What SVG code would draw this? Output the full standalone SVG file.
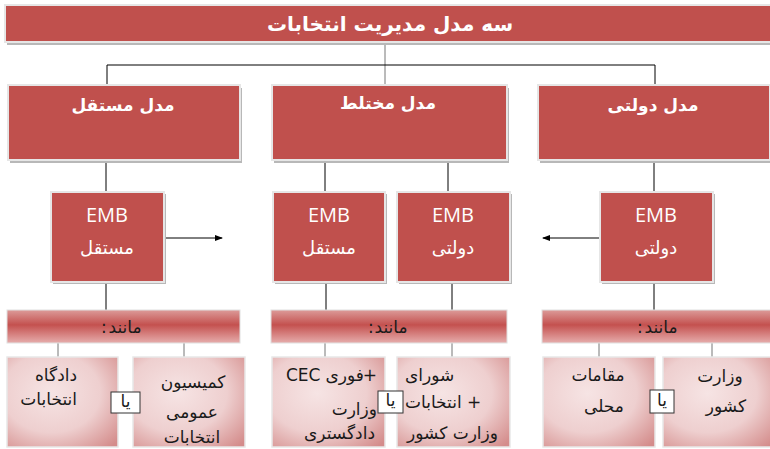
<svg xmlns="http://www.w3.org/2000/svg" width="770" height="449" viewBox="0 0 770 449">
<style>
.red{fill:#C0504D;stroke:#e6e6e6;stroke-width:2}
.shd{fill:#b8b8b8}
.bar{fill:url(#barG);stroke:#e0e0e0;stroke-width:1}
.pink{fill:url(#pinkG);stroke:#e8e8e8;stroke-width:1.5}
.ya{fill:#fff;stroke:#333;stroke-width:1}
.ttl{font-family:"DejaVu Sans",sans-serif;font-weight:bold;fill:#fff;text-anchor:middle}
.emb{font-family:"Open Sans","Liberation Sans",sans-serif;fill:#fff;font-size:20px;text-anchor:middle}
.embf{font-family:"DejaVu Sans",sans-serif;fill:#fff;font-size:18px;text-anchor:middle}
.dk{font-family:"DejaVu Sans",sans-serif;fill:#1a1a1a;font-size:17px}
.ln{stroke:#000;stroke-width:1;fill:none}
.lg{stroke:#777;stroke-width:1;fill:none}
</style>
<defs>
<linearGradient id="barG" x1="0" y1="0" x2="0" y2="1">
<stop offset="0" stop-color="#dc9b99"/>
<stop offset="0.45" stop-color="#c4514f"/>
<stop offset="1" stop-color="#e6adac"/>
</linearGradient>
<radialGradient id="pinkG" cx="0.4" cy="0.4" r="0.8">
<stop offset="0" stop-color="#f6e4e4"/>
<stop offset="0.55" stop-color="#eecfcf"/>
<stop offset="1" stop-color="#d48c8b"/>
</radialGradient>
<marker id="ar" markerWidth="8" markerHeight="8" refX="7" refY="4" orient="auto" markerUnits="userSpaceOnUse">
<path d="M0,1 L8,4 L0,7 Z" fill="#000"/>
</marker>
</defs>
<rect x="0" y="0" width="770" height="449" fill="#fff"/>

<g id="title">
<rect x="7" y="8" width="770" height="37" class="shd"/>
<rect x="5" y="5" width="770" height="37" class="red"/>
<text x="390" y="31" class="ttl" font-size="20">سه مدل مدیریت انتخابات</text>
</g>

<g id="connectors">
<path class="lg" d="M385 45 V85"/>
<path class="ln" d="M107 65 H655 M107 65 V85 M655 65 V85"/>
<path class="ln" d="M106 160 V192 M325 160 V192 M448 160 V192 M654 160 V192"/>
<path class="ln" d="M106 282 V310 M326 282 V310 M452 282 V310 M654 282 V310"/>
<path class="lg" d="M58 343 V357 M184 343 V357 M325 343 V357 M452 343 V357 M599 343 V357 M712 343 V357"/>
<path class="ln" d="M164 238 H222" marker-end="url(#ar)"/>
<path class="ln" d="M600 238 H543" marker-end="url(#ar)"/>
</g>

<g id="model-independent">
<rect x="10" y="88" width="232" height="75" class="shd"/>
<rect x="8" y="85" width="232" height="75" class="red"/>
<text x="123" y="111" class="ttl" font-size="17">مدل مستقل</text>
</g>
<g id="model-mixed">
<rect x="274" y="88" width="235" height="75" class="shd"/>
<rect x="272" y="85" width="235" height="75" class="red"/>
<text x="388" y="109" class="ttl" font-size="17">مدل مختلط</text>
</g>
<g id="model-gov">
<rect x="540" y="88" width="232" height="75" class="shd"/>
<rect x="538" y="85" width="232" height="75" class="red"/>
<text x="653" y="111" class="ttl" font-size="17">مدل دولتی</text>
</g>

<g id="emb-ind">
<rect x="53" y="194" width="113" height="90" class="shd"/>
<rect x="51" y="192" width="113" height="90" class="red"/>
<text x="107" y="222" class="emb">EMB</text>
<text x="107" y="254" class="embf">مستقل</text>
</g>
<g id="emb-mixed-ind">
<rect x="275" y="194" width="112" height="90" class="shd"/>
<rect x="273" y="192" width="112" height="90" class="red"/>
<text x="329" y="222" class="emb">EMB</text>
<text x="329" y="254" class="embf">مستقل</text>
</g>
<g id="emb-mixed-gov">
<rect x="399" y="194" width="113" height="90" class="shd"/>
<rect x="397" y="192" width="113" height="90" class="red"/>
<text x="453" y="222" class="emb">EMB</text>
<text x="453" y="254" class="embf">دولتی</text>
</g>
<g id="emb-gov">
<rect x="602" y="194" width="113" height="90" class="shd"/>
<rect x="600" y="192" width="113" height="90" class="red"/>
<text x="656" y="222" class="emb">EMB</text>
<text x="656" y="254" class="embf">دولتی</text>
</g>

<g id="bar-ind">
<rect x="7" y="310" width="233" height="33" class="bar"/>
<text x="101" y="333" class="dk" font-size="16">:</text>
<text x="125" y="333" class="dk" font-size="16" text-anchor="middle">مانند</text>
</g>
<g id="bar-mixed">
<rect x="271" y="310" width="236" height="33" class="bar"/>
<text x="368" y="333" class="dk" font-size="16">:</text>
<text x="391" y="333" class="dk" font-size="16" text-anchor="middle">مانند</text>
</g>
<g id="bar-gov">
<rect x="542" y="310" width="230" height="33" class="bar"/>
<text x="637" y="333" class="dk" font-size="16">:</text>
<text x="661" y="333" class="dk" font-size="16" text-anchor="middle">مانند</text>
</g>

<g id="court">
<rect x="7" y="357" width="111" height="90" class="pink"/>
<text x="77" y="381" class="dk" text-anchor="end" font-size="14">دادگاه</text>
<text x="77" y="405" class="dk" text-anchor="end" font-size="14">انتخابات</text>
</g>
<g id="commission">
<rect x="133" y="357" width="112" height="90" class="pink"/>
<text x="193" y="388" class="dk" text-anchor="middle" font-size="22">کمیسیون</text>
<text x="192" y="418" class="dk" text-anchor="middle" font-size="22">عمومی</text>
<text x="192" y="443" class="dk" text-anchor="middle" font-size="22">انتخابات</text>
</g>
<g id="ya1">
<rect x="111" y="392" width="29" height="21" class="ya"/>
<text x="125.5" y="407" class="dk" text-anchor="middle" font-size="12">یا</text>
</g>

<g id="cec">
<rect x="272" y="357" width="113" height="90" class="pink"/>
<text x="286" y="381" class="dk" font-size="15">CEC</text>
<text x="364" y="381" class="dk" font-size="15" text-anchor="end">فوری</text>
<text x="377" y="381" class="dk" font-size="15" text-anchor="end">+</text>
<text x="377" y="415" class="dk" text-anchor="end" font-size="16">وزارت</text>
<text x="375" y="439" class="dk" text-anchor="end" font-size="16">دادگستری</text>
</g>
<g id="council">
<rect x="397" y="357" width="113" height="90" class="pink"/>
<text x="405" y="381" class="dk" font-size="18">شورای</text>
<text x="405" y="408" class="dk" font-size="18">انتخابات</text>
<text x="467" y="408" class="dk" font-size="18">+</text>
<text x="407" y="439" class="dk" font-size="18">وزارت کشور</text>
</g>
<g id="ya2">
<rect x="378" y="391" width="25" height="22" class="ya"/>
<text x="390.5" y="406" class="dk" text-anchor="middle" font-size="12">یا</text>
</g>

<g id="local">
<rect x="543" y="357" width="112" height="90" class="pink"/>
<text x="598" y="381" class="dk" text-anchor="middle" font-size="18">مقامات</text>
<text x="604" y="412" class="dk" text-anchor="middle" font-size="18">محلی</text>
</g>
<g id="interior">
<rect x="663" y="357" width="112" height="90" class="pink"/>
<text x="720" y="382" class="dk" text-anchor="middle" font-size="22">وزارت</text>
<text x="726" y="412" class="dk" text-anchor="middle" font-size="22">کشور</text>
</g>
<g id="ya3">
<rect x="650" y="390" width="24" height="23" class="ya"/>
<text x="662" y="406" class="dk" text-anchor="middle" font-size="12">یا</text>
</g>
</svg>
